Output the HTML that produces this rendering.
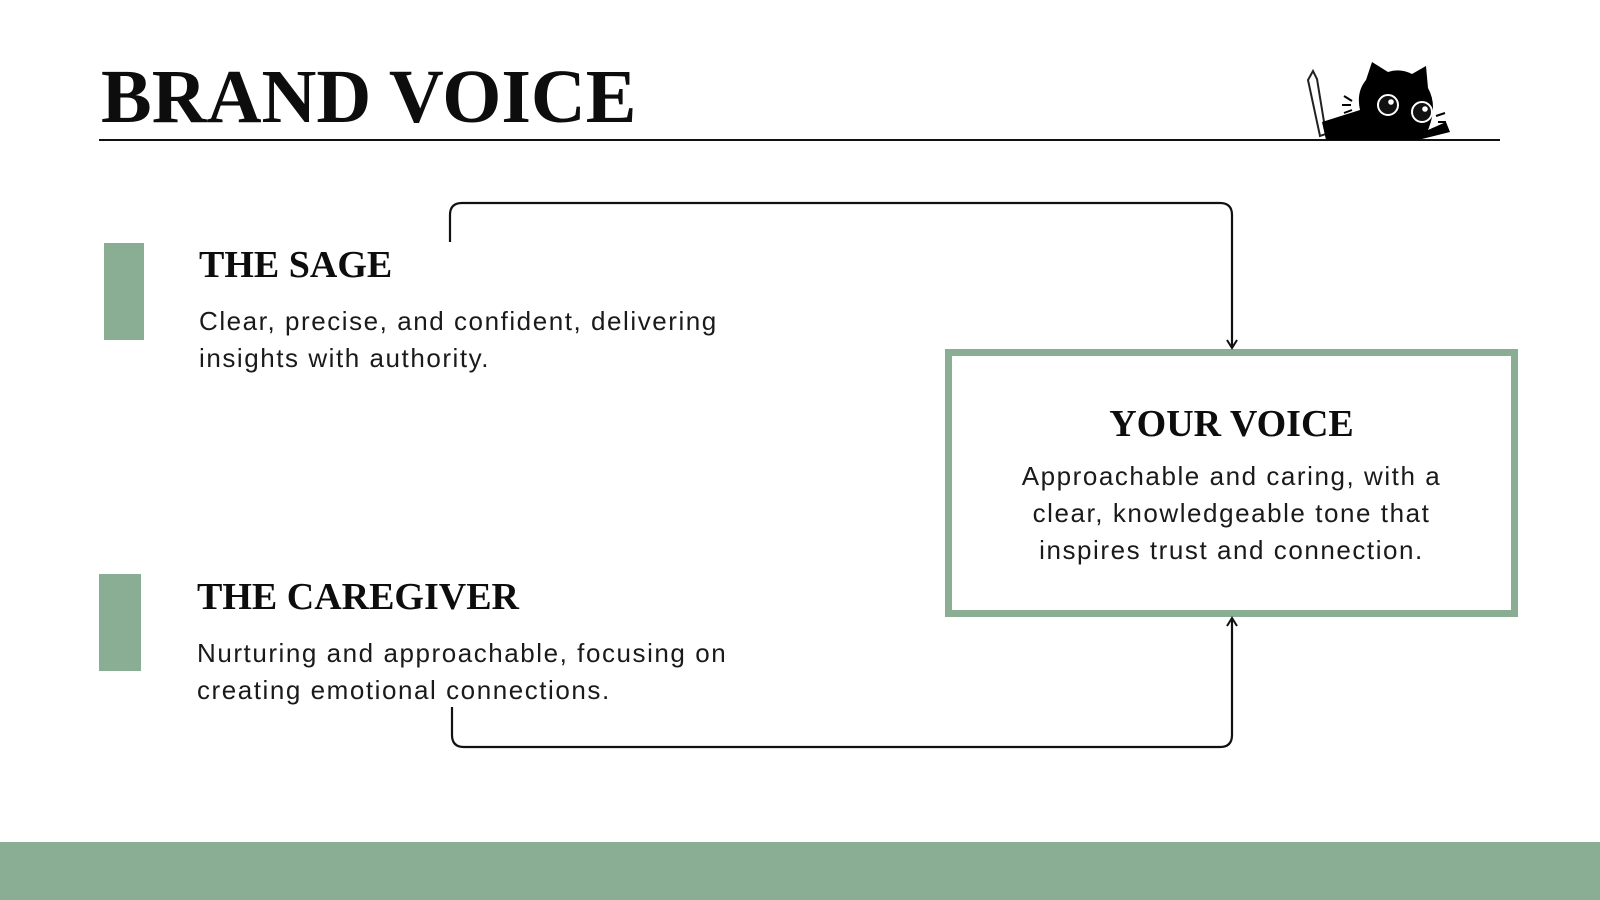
<!DOCTYPE html>
<html><head><meta charset="utf-8"><style>
body{margin:0;width:1600px;height:900px;background:#fff;position:relative;overflow:hidden;font-family:"Liberation Sans",sans-serif;color:#111}
.a{position:absolute;margin:0}
.ser{font-family:"Liberation Serif",serif;font-weight:bold;color:#0d0d0d}
.bar{position:absolute;background:#8aae93}
.body{font-size:26px;line-height:37px;color:#1a1a1a;letter-spacing:1.55px}
</style></head><body>
<div class="a ser" style="left:101px;top:52px;font-size:76px;letter-spacing:0px;line-height:90px">BRAND VOICE</div>
<div class="a" style="left:99px;top:139px;width:1401px;height:2px;background:#111"></div>
<svg class="a" style="left:1300px;top:58px" width="170" height="84" viewBox="0 0 170 84">
<path d="M8 22 L13 13 L17 21 L26 76 L20 78 Z" fill="#fff" stroke="#222" stroke-width="2"/>
<path d="M22 64 L60 52 Q56 34 66 22 L72 4 L88 14 Q100 10 112 16 L126 8 L128 30 Q138 48 128 72 L146 64 L150 74 L118 82 L26 82 Z" fill="#000"/>
<circle cx="88" cy="47" r="10" fill="#111" stroke="#fff" stroke-width="2"/>
<circle cx="91" cy="44" r="2.8" fill="#fff"/>
<circle cx="122" cy="54" r="10" fill="#111" stroke="#fff" stroke-width="2"/>
<circle cx="125" cy="51" r="2.8" fill="#fff"/>
<path d="M44 38 l8 5 M42 47 l9 0 M44 55 l8 -3 M136 58 l9 -3 M138 64 l8 0" stroke="#000" stroke-width="2"/>
</svg>
<div class="bar" style="left:104px;top:243px;width:40px;height:97px"></div>
<div class="bar" style="left:99px;top:574px;width:42px;height:97px"></div>
<div class="a ser" style="left:199px;top:243px;font-size:38px;line-height:44px">THE SAGE</div>
<div class="a body" style="left:199px;top:303px">Clear, precise, and confident, delivering<br>insights with authority.</div>
<div class="a ser" style="left:197px;top:575px;font-size:38px;line-height:44px">THE CAREGIVER</div>
<div class="a body" style="left:197px;top:635px">Nurturing and approachable, focusing on<br>creating emotional connections.</div>
<div class="a" style="left:945px;top:349px;width:559px;height:254px;border:7px solid #8aae93;text-align:center">
<div class="ser" style="font-size:38px;line-height:44px;margin-top:46px">YOUR VOICE</div>
<div class="body" style="margin-top:12px">Approachable and caring, with a<br>clear, knowledgeable tone that<br>inspires trust and connection.</div>
</div>
<svg class="a" style="left:0;top:0" width="1600" height="900">
<path d="M450 242 V215 Q450 203 462 203 H1220 Q1232 203 1232 215 V346" fill="none" stroke="#111" stroke-width="2.2"/>
<path d="M1227 340 L1232 348 L1237 340" fill="none" stroke="#111" stroke-width="2"/>
<path d="M452 707 V735 Q452 747 464 747 H1220 Q1232 747 1232 735 V620" fill="none" stroke="#111" stroke-width="2.2"/>
<path d="M1227 626 L1232 618 L1237 626" fill="none" stroke="#111" stroke-width="2"/>
</svg>
<div class="bar" style="left:0;top:842px;width:1600px;height:58px"></div>
</body></html>
